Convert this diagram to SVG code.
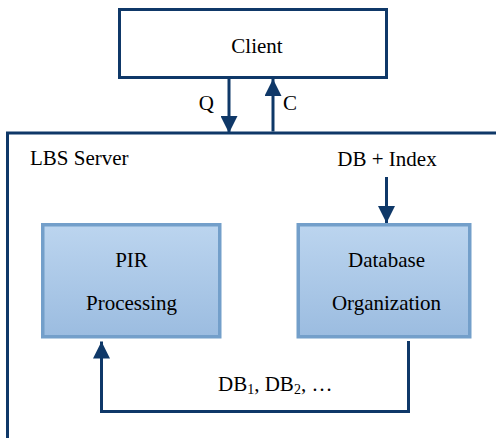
<svg xmlns="http://www.w3.org/2000/svg" width="496" height="438" viewBox="0 0 496 438">
<style>
.t{font-size:21px;fill:#000}
.ln{fill:none;stroke:#0f3868;stroke-width:3}
.bx{stroke:#739fca;stroke-width:3.5;fill:url(#g)}
</style>
<defs>
<linearGradient id="g" x1="0" y1="0" x2="0" y2="1">
<stop offset="0" stop-color="#bcd5ef"/>
<stop offset="1" stop-color="#9bbce0"/>
</linearGradient>
<marker id="ah" viewBox="0 0 10 10" refX="10" refY="5" markerWidth="17" markerHeight="17" markerUnits="userSpaceOnUse" orient="auto">
<path d="M0,0 L10,5 L0,10 z" fill="#0f3868"/>
</marker>
</defs>
<g font-family="Liberation Serif, Tinos, DejaVu Serif, serif">
<g id="client">
<rect x="119.5" y="9.5" width="267" height="68" fill="#fff" stroke="#0f3868" stroke-width="3"/>
<text class="t" x="257" y="53" text-anchor="middle">Client</text>
</g>
<g id="server">
<path class="ln" d="M7.5,438 V133 H496"/>
<text class="t" x="30" y="165">LBS Server</text>
</g>
<g id="pir">
<rect class="bx" x="42.75" y="224.75" width="177" height="112"/>
<text class="t" x="131.5" y="267" text-anchor="middle">PIR</text>
<text class="t" x="131.5" y="310" text-anchor="middle">Processing</text>
</g>
<g id="dborg">
<rect class="bx" x="298.25" y="224.75" width="171.5" height="112"/>
<text class="t" x="386.5" y="267" text-anchor="middle">Database</text>
<text class="t" x="386.5" y="310" text-anchor="middle">Organization</text>
</g>
<g id="connectors">
<line class="ln" x1="229" y1="79" x2="229" y2="133" marker-end="url(#ah)"/>
<line class="ln" x1="273" y1="131.5" x2="273" y2="79" marker-end="url(#ah)"/>
<line class="ln" x1="386.5" y1="177" x2="386.5" y2="223" marker-end="url(#ah)"/>
<path class="ln" d="M408.5,341 V411.5 H101.5 V341.5" marker-end="url(#ah)"/>
<text class="t" x="387" y="166" text-anchor="middle">DB + Index</text>
<text class="t" x="218" y="391">DB<tspan font-size="14" dy="3">1</tspan><tspan dy="-3">, DB</tspan><tspan font-size="14" dy="3">2</tspan><tspan dy="-3">, …</tspan></text>
<text class="t" x="214" y="110" text-anchor="end">Q</text>
<text class="t" x="283" y="110">C</text>
</g>
</g>
</svg>
